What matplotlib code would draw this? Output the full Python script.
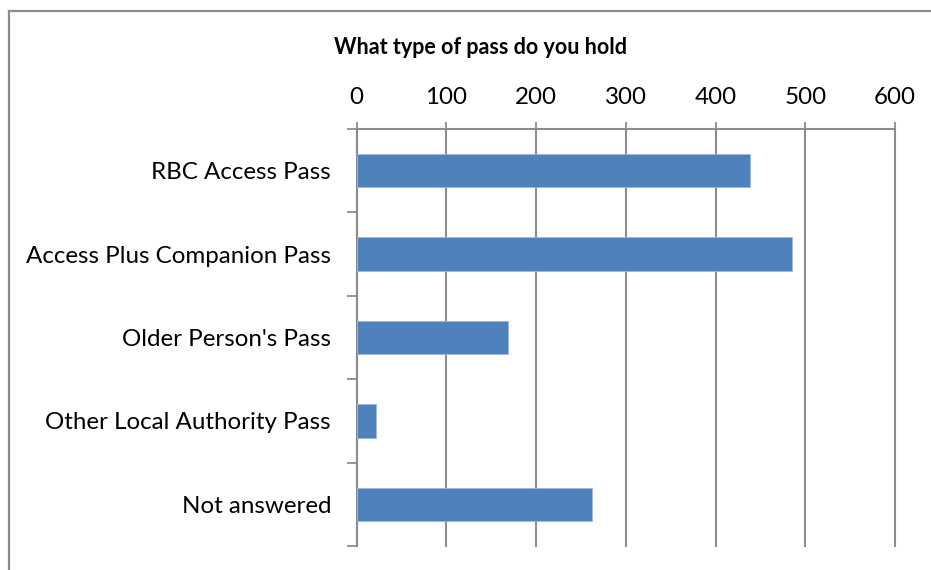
import matplotlib
matplotlib.use('Agg')
import matplotlib.pyplot as plt
from matplotlib.lines import Line2D
import numpy as np

# data
categories = ['RBC Access Pass', 'Access Plus Companion Pass', "Older Person's Pass",
              'Other Local Authority Pass', 'Not answered']
counts = [438, 485, 169, 22, 262]
x_ticks = [0, 100, 200, 300, 400, 500, 600]

W, H = 931, 570
plt.rcParams['font.family'] = ['Lato', 'DejaVu Sans']
fig = plt.figure(figsize=(W / 100, H / 100), dpi=100)

grey = '#8c8c8c'
# outer chart border - only its top and left edges fall inside the picture
bx, by = 8.5 / W, 1 - 10.5 / H
fig.add_artist(Line2D([bx, 1.0], [by, by], transform=fig.transFigure,
                      color=grey, linewidth=1.6))
fig.add_artist(Line2D([bx, bx], [0.0, by], transform=fig.transFigure,
                      color=grey, linewidth=1.6))

ax = fig.add_axes([356.7 / W, 24 / H, 538.2 / W, 417 / H])
y = np.arange(len(categories))
ax.barh(y, counts, height=0.4, color='#4F81BD', edgecolor='#9DB9DD', linewidth=0.6, zorder=3)
ax.set_ylim(len(categories) - 0.5, -0.5)
ax.set_xlim(0, 600)

ax.xaxis.tick_top()
ax.set_xticks(x_ticks)
ax.set_xticklabels([str(v) for v in x_ticks], fontsize=17.4)
ax.tick_params(axis='x', which='major', direction='inout', length=10, width=1.3,
               color=grey, pad=10)
ax.grid(axis='x', color=grey, linewidth=1.5, zorder=0)
for gl in ax.get_xgridlines():
    gl.set_clip_on(False)

ax.set_yticks(y)
ax.set_yticklabels(categories, fontsize=17.4)
ax.tick_params(axis='y', which='major', length=0, pad=18.5)
ax.set_yticks(np.arange(len(categories) + 1) - 0.5, minor=True)
ax.tick_params(axis='y', which='minor', direction='out', length=7, width=1.3, color=grey)

for side in ['right', 'bottom']:
    ax.spines[side].set_visible(False)
ax.spines['left'].set_color(grey)
ax.spines['left'].set_linewidth(1.5)
ax.spines['top'].set_color(grey)
ax.spines['top'].set_linewidth(1.5)

fig.text(480 / W, 1 - 47 / H, 'What type of pass do you hold', ha='center', va='center',
         fontsize=15.5, fontweight='bold')

fig.savefig('out.png', dpi=100)
